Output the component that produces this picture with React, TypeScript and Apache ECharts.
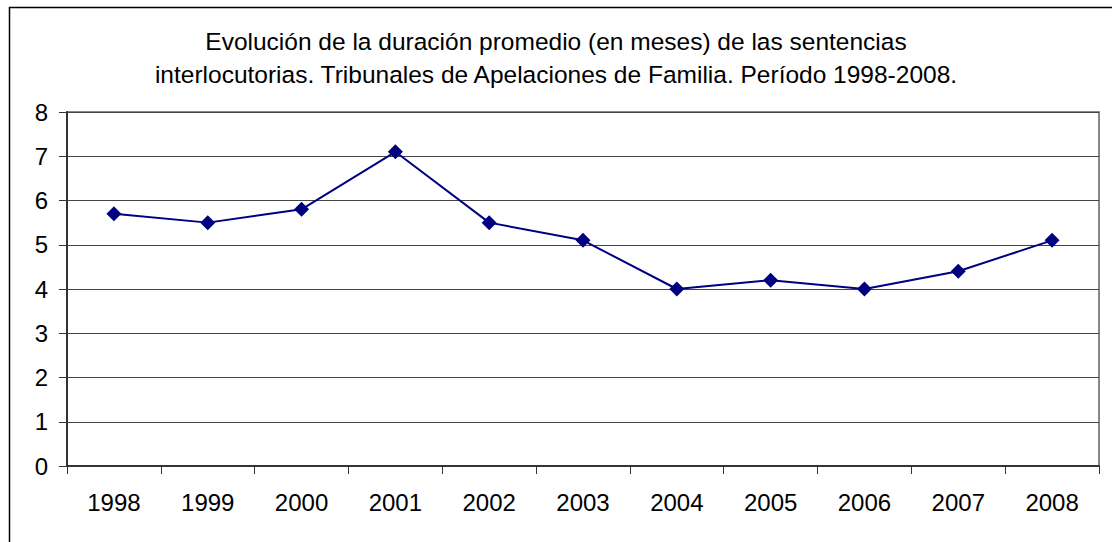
import React, { useEffect, useRef } from "react";
import * as echarts from "echarts";

const years = ["1998", "1999", "2000", "2001", "2002", "2003", "2004", "2005", "2006", "2007", "2008"];
const duracion = [5.7, 5.5, 5.8, 7.1, 5.5, 5.1, 4.0, 4.2, 4.0, 4.4, 5.1];
const titleLines = [
  "Evolución de la duración promedio (en meses) de las sentencias",
  "interlocutorias. Tribunales de Apelaciones de Familia. Período 1998-2008.",
];

export default function App() {
  const ref = useRef<HTMLDivElement>(null);
  useEffect(() => {
    if (!ref.current) return;
    const chart = echarts.init(ref.current, undefined, { renderer: "svg" });
    const font = "Liberation Sans, Arial, sans-serif";
    chart.setOption({
      animation: false,
      backgroundColor: "#fff",
      title: {
        text: titleLines.join("\n"),
        left: "center",
        top: 20,
        textStyle: { fontFamily: font, fontSize: 24.5, fontWeight: "normal", color: "#000", lineHeight: 33 },
      },
      graphic: [
        {
          type: "rect",
          shape: { x: 9.5, y: 7.5, width: 1200, height: 600 },
          style: { fill: "none", stroke: "#000", lineWidth: 1.5 },
          silent: true,
        },
      ],
      grid: {
        left: 67,
        top: 112,
        right: 13,
        bottom: 76,
        show: true,
        borderColor: "#888",
        borderWidth: 2,
        backgroundColor: "transparent",
      },
      xAxis: {
        type: "category",
        data: years,
        boundaryGap: true,
        axisLine: { show: true, lineStyle: { color: "#333", width: 2 } },
        axisTick: { show: true, length: 8, alignWithLabel: false, lineStyle: { color: "#333", width: 1 } },
        axisLabel: { margin: 24, fontFamily: font, fontSize: 24, color: "#000" },
        splitLine: { show: false },
      },
      yAxis: {
        type: "value",
        min: 0,
        max: 8,
        interval: 1,
        axisLine: { show: true, lineStyle: { color: "#333", width: 2 } },
        axisTick: { show: true, length: 8, inside: false, lineStyle: { color: "#333", width: 1 } },
        axisLabel: { margin: 19, fontFamily: font, fontSize: 24, color: "#000" },
        splitLine: { show: true, lineStyle: { color: "#444", width: 1 } },
      },
      series: [
        {
          type: "line",
          data: duracion,
          symbol: "diamond",
          symbolSize: 15,
          lineStyle: { color: "#000080", width: 2 },
          itemStyle: { color: "#000080" },
          z: 5,
        },
      ],
    });
    return () => chart.dispose();
  }, []);
  return (
    <div
      ref={ref}
      style={{ position: "absolute", left: 0, top: 0, width: 1112, height: 542 }}
    />
  );
}
